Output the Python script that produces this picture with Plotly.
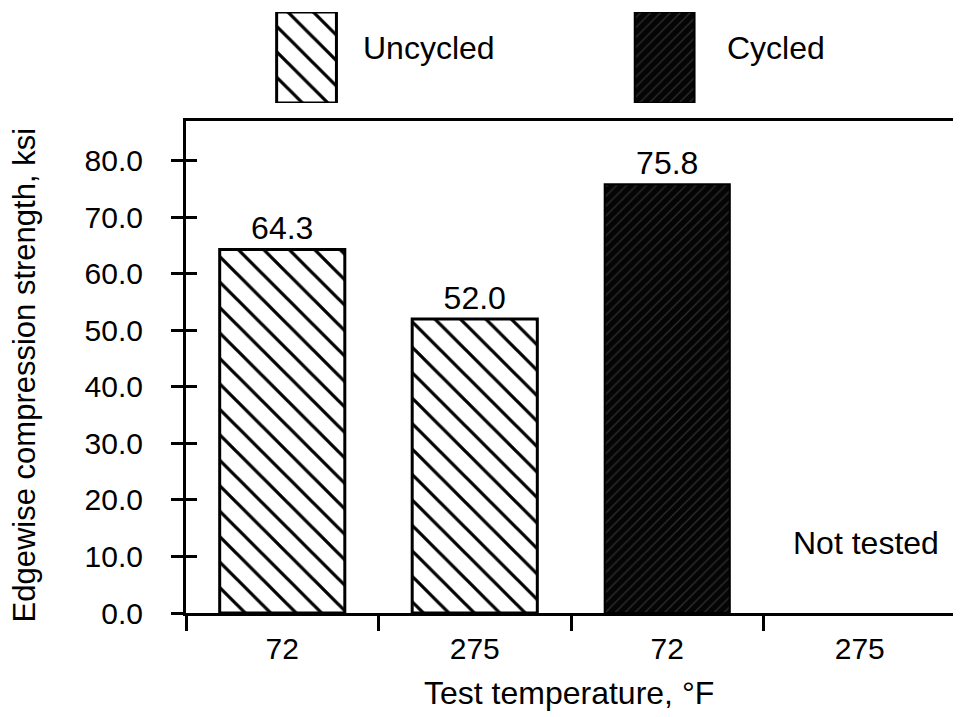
import plotly.graph_objects as go

# ---- data ----
categories = ["Uncycled 72", "Uncycled 275", "Cycled 72", "Cycled 275"]
tick_labels = ["72", "275", "72", "275"]
uncycled_x = ["Uncycled 72", "Uncycled 275"]
uncycled_vals = [64.3, 52.0]
cycled_x = ["Cycled 72", "Cycled 275"]
cycled_vals = [75.8, None]  # 275 F cycled: not tested
y_ticks = [0, 10, 20, 30, 40, 50, 60, 70, 80]
legend_names = ["Uncycled", "Cycled"]
not_tested_label = "Not tested"

FONT = "Liberation Sans, Arial, Helvetica, sans-serif"
FS_TICK = 30
FS_BIG = 32

fig = go.Figure()

hatch = dict(shape="\\", fgcolor="black", bgcolor="white", size=18, solidity=0.18,
             fgopacity=1, fillmode="replace")
dark = dict(shape="/", fgcolor="#2e2e2e", bgcolor="#050505", size=7, solidity=0.18,
            fgopacity=1, fillmode="replace")

fig.add_trace(go.Bar(
    x=uncycled_x, y=uncycled_vals, name="Uncycled", width=0.65,
    marker=dict(color="white", line=dict(color="black", width=3), pattern=hatch),
    texttemplate="%{y:.1f}", textposition="outside", cliponaxis=False,
    textfont=dict(family=FONT, size=FS_BIG, color="black"),
    xaxis="x", yaxis="y", showlegend=False,
))
fig.add_trace(go.Bar(
    x=cycled_x, y=cycled_vals, name="Cycled", width=0.65,
    marker=dict(color="#050505", line=dict(color="black", width=2), pattern=dark),
    texttemplate="%{y:.1f}", textposition="outside", cliponaxis=False,
    textfont=dict(family=FONT, size=FS_BIG, color="black"),
    xaxis="x", yaxis="y", showlegend=False,
))

# legend swatches (drawn on their own small axes above the plot)
fig.add_trace(go.Bar(
    x=[legend_names[0]], y=[1], width=0.167, xaxis="x2", yaxis="y2",
    marker=dict(color="white", line=dict(color="black", width=3), pattern=hatch),
    showlegend=False, hoverinfo="skip",
))
fig.add_trace(go.Bar(
    x=[legend_names[1]], y=[1], width=0.167, xaxis="x2", yaxis="y2",
    marker=dict(color="#050505", line=dict(color="black", width=2), pattern=dark),
    showlegend=False, hoverinfo="skip",
))

ymax = 87.0
ydom = [0, 0.8159]

fig.update_layout(
    width=953, height=709,
    margin=dict(l=178, r=2, t=2, b=104),
    paper_bgcolor="white", plot_bgcolor="white",
    barmode="overlay",
    font=dict(family=FONT, size=FS_TICK, color="black"),
    xaxis=dict(
        type="category", categoryorder="array", categoryarray=categories,
        tickmode="array", tickvals=categories, ticktext=tick_labels,
        range=[-0.5, 3.5], domain=[0, 1], anchor="y",
        ticks="", showgrid=False, zeroline=False,
        showline=True, linecolor="black", linewidth=3, mirror=True,
        ticklabelstandoff=7,
        tickfont=dict(family=FONT, size=FS_TICK, color="black"),
    ),
    xaxis3=dict(
        overlaying="x", range=[-0.5, 3.5], anchor="y",
        tickmode="array", tickvals=[-0.5, 0.5, 1.5, 2.5],
        ticks="outside", ticklen=17, tickwidth=3, tickcolor="black",
        showticklabels=False, showgrid=False, zeroline=False, showline=False,
    ),
    yaxis=dict(
        range=[0, ymax], domain=ydom, anchor="x",
        tickmode="array", tickvals=y_ticks,
        ticktext=[f"{v:.1f}" for v in y_ticks],
        ticks="outside", ticklen=12, tickwidth=3, tickcolor="black",
        showgrid=False, zeroline=False,
        showline=True, linecolor="black", linewidth=3, mirror=True,
        ticklabelstandoff=22,
        tickfont=dict(family=FONT, size=FS_TICK, color="black"),
    ),
    yaxis3=dict(
        overlaying="y", range=[0, ymax], anchor="x", side="left",
        tickmode="array", tickvals=y_ticks,
        ticks="inside", ticklen=11, tickwidth=3, tickcolor="black",
        showticklabels=False, showgrid=False, zeroline=False, showline=False,
    ),
    xaxis2=dict(
        type="category", categoryorder="array", categoryarray=legend_names,
        domain=[0, 1], range=[-0.3366, 1.8136], anchor="y2",
        visible=False,
    ),
    yaxis2=dict(domain=[0.8458, 0.9967], range=[0, 1], anchor="x2", visible=False),
)

# invisible trace so the overlay tick axes are rendered
fig.add_trace(go.Scatter(x=[0], y=[0], xaxis="x3", yaxis="y3", mode="markers",
                         marker=dict(opacity=0), showlegend=False, hoverinfo="skip"))

ann = [
    dict(text="Uncycled", x=0.2277, y=0.937, xref="paper", yref="paper",
         xanchor="left", yanchor="middle", showarrow=False,
         font=dict(family=FONT, size=FS_BIG)),
    dict(text="Cycled", x=0.6999, y=0.937, xref="paper", yref="paper",
         xanchor="left", yanchor="middle", showarrow=False,
         font=dict(family=FONT, size=FS_BIG)),
    dict(text=not_tested_label, x=categories[3], y=12.4, xref="x", yref="y",
         xanchor="center", yanchor="middle", showarrow=False, xshift=6,
         font=dict(family=FONT, size=FS_BIG)),
    dict(text="Test temperature, °F", x=0.4968, y=-0.1327, xref="paper", yref="paper",
         xanchor="center", yanchor="middle", showarrow=False,
         font=dict(family=FONT, size=FS_BIG)),
    dict(text="Edgewise compression strength, ksi", x=-0.2085, y=0.3947,
         xref="paper", yref="paper", xanchor="center", yanchor="middle",
         textangle=-90, showarrow=False,
         font=dict(family=FONT, size=31)),
]
fig.update_layout(annotations=ann)

fig.write_html("out.html")
